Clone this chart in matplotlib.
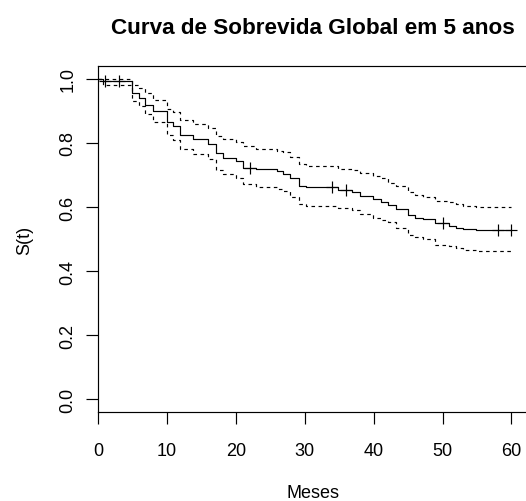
import numpy as np
import matplotlib
matplotlib.use("Agg")
import matplotlib.pyplot as plt

plt.rcParams["font.family"] = ["Liberation Sans", "DejaVu Sans"]

# Kaplan-Meier estimate (step starts) with 95% confidence limits
event_times = [0.0, 0.7, 4.9, 6.0, 6.8, 8.0, 10.0, 10.9, 11.9, 13.8, 16.0, 17.1,
               18.2, 20.0, 21.0, 23.0, 26.0, 26.9, 27.9, 29.2, 30.2, 34.9, 36.9,
               38.0, 39.9, 41.1, 42.1, 43.2, 45.0, 46.0, 47.1, 48.9, 51.0, 52.0,
               53.0, 54.9]
survival = [1.000, 0.992, 0.957, 0.940, 0.917, 0.900, 0.865, 0.853, 0.826, 0.811,
            0.798, 0.770, 0.754, 0.744, 0.723, 0.718, 0.711, 0.704, 0.689, 0.666,
            0.661, 0.653, 0.647, 0.635, 0.624, 0.616, 0.606, 0.593, 0.575, 0.565,
            0.562, 0.550, 0.540, 0.535, 0.531, 0.527]
lower_ci = [1.000, 0.980, 0.930, 0.915, 0.890, 0.865, 0.825, 0.810, 0.782, 0.765,
            0.751, 0.716, 0.702, 0.689, 0.671, 0.661, 0.656, 0.650, 0.630, 0.609,
            0.603, 0.597, 0.590, 0.578, 0.567, 0.560, 0.552, 0.533, 0.512, 0.505,
            0.500, 0.482, 0.478, 0.473, 0.467, 0.462]
upper_ci = [1.000, 1.000, 0.980, 0.970, 0.955, 0.935, 0.905, 0.895, 0.872, 0.860,
            0.848, 0.822, 0.811, 0.803, 0.790, 0.782, 0.776, 0.772, 0.757, 0.735,
            0.728, 0.720, 0.716, 0.705, 0.698, 0.690, 0.676, 0.666, 0.647, 0.637,
            0.632, 0.619, 0.614, 0.608, 0.603, 0.599]
censor_times = [1.0, 3.0, 22.0, 34.0, 36.0, 50.0, 58.1, 60.0]
end_time = 60.0

x_ticks = [0, 10, 20, 30, 40, 50, 60]
y_ticks = [0.0, 0.2, 0.4, 0.6, 0.8, 1.0]

W, H, DPI = 526, 502, 100
fig = plt.figure(figsize=(W / DPI, H / DPI), dpi=DPI)
ax = fig.add_axes([98 / W, 89 / H, 430 / W, 346 / H])

t = np.array(event_times + [end_time])

def extend(v):
    return np.array(v + [v[-1]])

s = extend(survival)
lo = extend(lower_ci)
up = extend(upper_ci)

ax.step(t, s, where="post", color="black", lw=0.85)
for band in (lo, up):
    line, = ax.step(t, band, where="post", color="black", lw=0.85)
    line.set_dashes((3.0, 3.0))

# censoring marks on the survival curve
ct = np.array(censor_times)
idx = np.searchsorted(np.array(event_times), ct, side="right") - 1
cs = np.array(survival)[idx]
ax.plot(ct, cs, linestyle="none", marker="+", markersize=9, mew=0.85, color="black")

ax.set_xlim(0, 62.4)
ax.set_ylim(-0.04, 1.04)

for sp in ax.spines.values():
    sp.set_linewidth(0.85)

ax.set_xticks(x_ticks)
ax.set_xticklabels([str(v) for v in x_ticks])
ax.set_yticks(y_ticks)
ax.set_yticklabels([f"{v:.1f}" for v in y_ticks], rotation=90, va="center")
ax.tick_params(axis="both", direction="out", length=8.5, width=0.85, labelsize=13)
ax.tick_params(axis="x", pad=13)
ax.tick_params(axis="y", pad=7)

ax.set_xlabel("Meses", fontsize=13, labelpad=18)
ax.set_ylabel("S(t)", fontsize=13, labelpad=19)
ax.set_title("Curva de Sobrevida Global em 5 anos", fontsize=16.2,
             fontweight="bold", pad=24)

fig.savefig("out.png", dpi=DPI)
